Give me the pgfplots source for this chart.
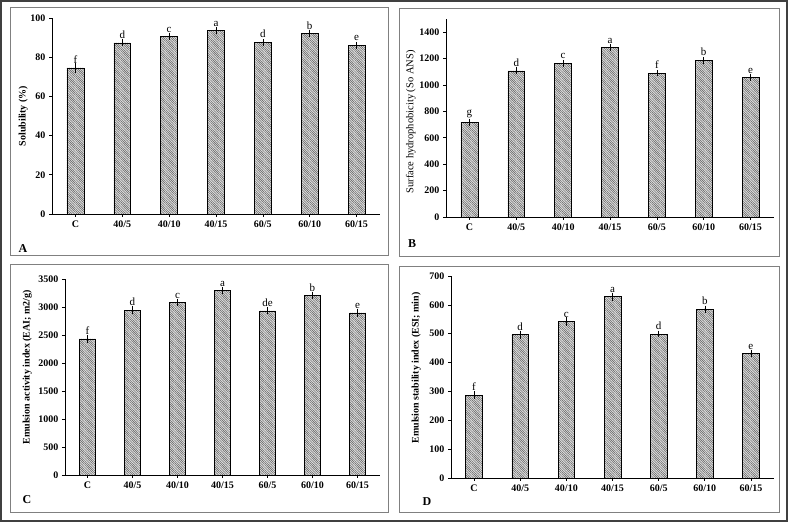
\documentclass[border=0pt]{standalone}
\usepackage{fontspec}
\setmainfont{Liberation Serif}
\usepackage{pgfplots}
\usepackage{pgfplotstable}
\pgfplotsset{compat=1.18}
\usetikzlibrary{patterns.meta}

% dense "\" hatching like the Excel fill
\tikzdeclarepattern{
  name=densenw,
  type=uncolored,
  bounding box={(-0.1pt,-0.1pt) and (1.9pt,1.9pt)},
  tile size={(1.8pt,1.8pt)},
  code={\draw[line width=0.45pt] (-0.1pt,1.9pt) -- (1.9pt,-0.1pt);}
}

\pgfplotstableread{
x y e l
0 74.5 1.3 f
1 87.3 0.5 d
2 90.6 0.4 c
3 93.6 0.5 a
4 87.6 0.4 d
5 92.0 0.6 b
6 86.1 0.4 e
}\solub

\pgfplotstableread{
x y e l
0 716 8 g
1 1107 8 d
2 1165 7 c
3 1284 8 a
4 1090 6 f
5 1187 8 b
6 1057 6 e
}\hydro

\pgfplotstableread{
x y e l
0 2430 25 f
1 2945 20 d
2 3075 18 c
3 3295 15 a
4 2932 18 de
5 3205 20 b
6 2895 25 e
}\eai

\pgfplotstableread{
x y e l
0 287 5 f
1 497 5 d
2 542 6 c
3 628 6 a
4 499 3 d
5 585 4 b
6 431 4 e
}\esi

\pgfplotsset{
  panel/.style={
    scale only axis, anchor=south west,
    axis x line=bottom, axis y line=left,
    axis line style={-, line width=0.7pt},
    ybar, bar width=0.36,
    xmin=-0.5, xmax=6.5, ymin=0,
    xtick={0,...,6},
    xticklabels={C,40/5,40/10,40/15,60/5,60/10,60/15},
    tick align=outside, major tick length=3pt,
    tick style={black, line width=0.6pt},
    tick label style={font=\bfseries\fontsize{10}{12}\selectfont},
    /pgf/number format/assume math mode=true,
    /pgf/number format/1000 sep={},
    scaled y ticks=false, clip=false,
    nodes near coords, point meta=explicit symbolic,
    every node near coord/.style={font=\fontsize{11}{13}\selectfont, black, inner sep=1pt, yshift=3pt},
    ylabel style={font=\bfseries\fontsize{10}{12}\selectfont, anchor=center},
  },
  bars/.style={
    draw=black, line width=0.6pt, pattern=densenw, pattern color=black!65,
    error bars/.cd, y dir=both, y explicit,
    error bar style={black, line width=0.5pt},
    error mark options={black, mark size=2.5pt, line width=0.5pt},
  },
}

\begin{document}
\begin{tikzpicture}
\useasboundingbox (0,0) rectangle (788pt,522pt);
\draw[black!75, line width=1.5pt] (1pt,1pt) rectangle (787pt,521pt);
\draw[black!50, line width=0.8pt] (10pt,267pt) rectangle (388pt,515pt);
\draw[black!50, line width=0.8pt] (399pt,266pt) rectangle (779pt,514pt);
\draw[black!50, line width=0.8pt] (10pt,10pt) rectangle (388pt,258pt);
\draw[black!50, line width=0.8pt] (399pt,10pt) rectangle (779pt,256pt);

\node[font=\bfseries\fontsize{12}{14}\selectfont] at (23pt,273pt) {A};
\node[font=\bfseries\fontsize{12}{14}\selectfont] at (412pt,278pt) {B};
\node[font=\bfseries\fontsize{12}{14}\selectfont] at (27pt,22pt) {C};
\node[font=\bfseries\fontsize{12}{14}\selectfont] at (427pt,20pt) {D};

% A
\begin{axis}[panel, at={(52pt,308pt)}, width=328pt, height=196pt,
  ymax=100, ytick={0,20,...,100},
  ylabel={Solubility (\%)},
  ylabel style={at={(axis description cs:-0.088,0.5)}}]
\addplot[bars] table[x=x, y=y, y error=e, meta=l] {\solub};
\end{axis}

% B
\begin{axis}[panel, at={(446pt,305pt)}, width=328pt, height=198pt,
  ymax=1500, ytick={0,200,...,1400},
  ylabel={Surface hydrophobicity (So ANS)},
  ylabel style={at={(axis description cs:-0.107,0.48)}, font=\fontsize{10.5}{12}\selectfont}]
\addplot[bars] table[x=x, y=y, y error=e, meta=l] {\hydro};
\end{axis}

% C
\begin{axis}[panel, at={(65pt,47pt)}, width=315pt, height=196pt,
  ymax=3500, ytick={0,500,...,3500},
  ylabel={Emulsion activity index (EAI; m2/g)},
  ylabel style={at={(axis description cs:-0.12,0.55)}}]
\addplot[bars] table[x=x, y=y, y error=e, meta=l] {\eai};
\end{axis}

% D
\begin{axis}[panel, at={(451pt,44pt)}, width=323pt, height=202pt,
  ymax=700, ytick={0,100,...,700},
  ylabel={Emulsion stability index (ESI; min)},
  ylabel style={at={(axis description cs:-0.108,0.545)}}]
\addplot[bars] table[x=x, y=y, y error=e, meta=l] {\esi};
\end{axis}
\end{tikzpicture}
\end{document}
